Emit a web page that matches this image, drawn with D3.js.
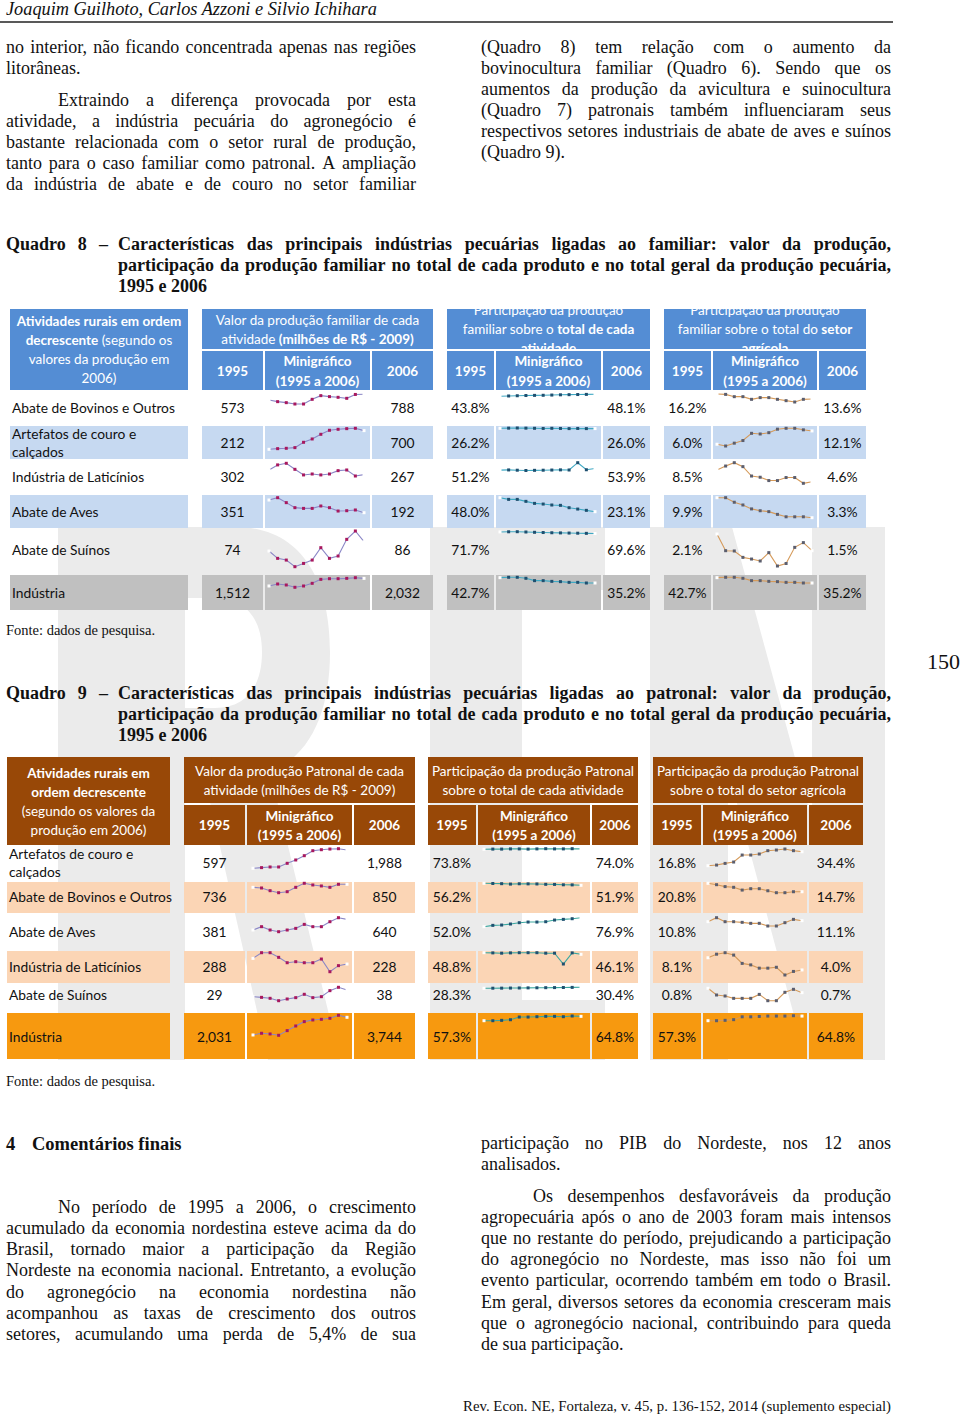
<!DOCTYPE html>
<html><head><meta charset="utf-8">
<script src="https://cdn.jsdelivr.net/npm/d3@7"></script>
<style>body{margin:0;background:#fff;} svg{display:block;}</style>
</head><body>
<script>
// ================= DATA =================
const years = d3.range(1995, 2007);

const q8Activities = ["Abate de Bovinos e Outros", "Artefatos de couro e calçados", "Indústria de Laticínios", "Abate de Aves", "Abate de Suínos", "Indústria"];
const q8Value1995 = [573, 212, 302, 351, 74, 1512];
const q8Value2006 = [788, 700, 267, 192, 86, 2032];
const q8ShareAct1995 = [43.8, 26.2, 51.2, 48.0, 71.7, 42.7];
const q8ShareAct2006 = [48.1, 26.0, 53.9, 23.1, 69.6, 35.2];
const q8ShareSec1995 = [16.2, 6.0, 8.5, 9.9, 2.1, 42.7];
const q8ShareSec2006 = [13.6, 12.1, 4.6, 3.3, 1.5, 35.2];
const q8SparkValue = [
  [573, 510, 472, 421, 421, 598, 737, 700, 674, 636, 782, 788],
  [212, 229, 238, 256, 395, 482, 604, 709, 735, 752, 761, 700],
  [302, 340, 352, 307, 265, 272, 265, 272, 297, 302, 257, 267],
  [351, 380, 318, 255, 246, 246, 276, 255, 213, 217, 226, 192],
  [74, 64.6, 62.4, 53.9, 58.1, 62.4, 78.3, 64.6, 67.6, 89, 99.7, 86],
  [1512, 1648, 1580, 1422, 1512, 1693, 1964, 2009, 2009, 2032, 2077, 2032]
];
const q8SparkShareAct = [
  [43.8, 44.5, 45.0, 45.5, 45.8, 46.0, 46.5, 47.0, 47.3, 47.6, 47.9, 48.1],
  [26.2, 26.3, 26.4, 26.3, 26.2, 26.1, 26.2, 26.1, 26.0, 26.1, 26.0, 26.0],
  [51.2, 51.5, 51.0, 50.5, 50.8, 51.0, 51.3, 51.6, 51.4, 64.0, 51.8, 53.9],
  [48.0, 45.0, 45.0, 41.5, 37.9, 36.7, 35.0, 34.4, 30.2, 27.8, 25.5, 23.1],
  [71.7, 71.9, 72.0, 71.6, 71.2, 70.9, 70.6, 70.4, 70.2, 70.0, 69.8, 69.6],
  [42.7, 43.2, 43.2, 41.8, 38.5, 38.5, 37.5, 37.1, 36.1, 36.1, 35.2, 35.2]
];
const q8SparkShareSec = [
  [16.2, 16.0, 14.8, 14.8, 13.4, 14.3, 14.3, 13.4, 12.7, 12.0, 13.4, 13.6],
  [6.0, 5.2, 6.5, 7.7, 11.0, 10.7, 11.3, 12.9, 13.3, 13.3, 12.6, 12.1],
  [8.5, 9.8, 10.9, 9.6, 6.5, 6.1, 5.0, 5.0, 6.0, 6.0, 4.1, 4.6],
  [9.9, 9.9, 8.4, 7.5, 6.2, 5.6, 5.3, 4.4, 3.6, 3.6, 3.6, 3.3],
  [2.1, 1.5, 1.49, 1.26, 1.2, 1.13, 1.43, 0.95, 1.04, 1.62, 1.79, 1.5],
  [42.7, 43.2, 43.2, 41.8, 38.5, 38.5, 37.5, 37.1, 36.1, 36.1, 35.2, 35.2]
];

const q9Activities = ["Artefatos de couro e calçados", "Abate de Bovinos e Outros", "Abate de Aves", "Indústria de Laticínios", "Abate de Suínos", "Indústria"];
const q9Value1995 = [597, 736, 381, 288, 29, 2031];
const q9Value2006 = [1988, 850, 640, 228, 38, 3744];
const q9ShareAct1995 = [73.8, 56.2, 52.0, 48.8, 28.3, 57.3];
const q9ShareAct2006 = [74.0, 51.9, 76.9, 46.1, 30.4, 64.8];
const q9ShareSec1995 = [16.8, 20.8, 10.8, 8.1, 0.8, 57.3];
const q9ShareSec2006 = [34.4, 14.7, 11.1, 4.0, 0.7, 64.8];
const q9SparkValue = [
  [597, 648, 698, 698, 977, 1230, 1558, 1938, 2014, 2064, 2090, 1988],
  [736, 711, 609, 533, 571, 736, 888, 825, 787, 736, 850, 850],
  [381, 462, 381, 340, 381, 421, 518, 462, 462, 583, 680, 640],
  [288, 348, 348, 299, 242, 253, 242, 242, 281, 147, 211, 228],
  [29, 28.1, 26.8, 23.6, 25.9, 27.7, 32.2, 27.7, 29, 37.1, 41.6, 38],
  [2031, 2193, 2128, 1999, 2451, 2903, 3323, 3484, 3549, 3646, 3937, 3744]
];
const q9SparkShareAct = [
  [73.8, 73.9, 73.9, 74.0, 74.0, 73.9, 74.0, 74.1, 74.0, 74.0, 74.1, 74.0],
  [56.2, 55.8, 55.4, 54.5, 55.2, 55.0, 54.8, 54.0, 53.8, 53.0, 52.8, 51.9],
  [52.0, 55.7, 56.6, 59.4, 63.1, 64.9, 64.9, 65.8, 70.4, 72.3, 74.1, 76.9],
  [48.8, 48.5, 48.0, 48.5, 48.8, 48.8, 48.8, 48.0, 48.0, 30.0, 48.5, 46.1],
  [28.3, 28.5, 28.6, 28.8, 29.0, 29.2, 29.4, 29.6, 29.8, 30.0, 30.2, 30.4],
  [57.3, 57.3, 57.9, 59.0, 63.6, 63.6, 64.2, 64.8, 64.8, 64.2, 65.4, 64.8]
];
const q9SparkShareSec = [
  [16.8, 17.6, 19.7, 21.4, 30.2, 30.2, 31.5, 35.7, 36.5, 37.8, 35.7, 34.4],
  [20.8, 19.8, 18.4, 17.9, 15.9, 16.9, 16.9, 15.4, 14.0, 14.0, 14.7, 14.7],
  [10.8, 12.0, 10.8, 10.8, 10.6, 10.3, 10.3, 9.5, 9.5, 10.5, 11.5, 11.1],
  [8.1, 9.3, 9.8, 9.0, 6.2, 5.7, 4.6, 4.6, 4.9, 2.3, 3.5, 4.0],
  [0.80, 0.646, 0.623, 0.569, 0.569, 0.569, 0.66, 0.515, 0.515, 0.708, 0.777, 0.70],
  [57.3, 57.3, 57.9, 59.0, 63.6, 63.6, 64.2, 64.8, 64.8, 64.8, 65.4, 64.8]
];

// ================= LAYOUT / STYLE =================
const W = 960, H = 1415;
const SERIF = "'Liberation Serif','Times New Roman',serif";
const SANS = "Lato,'Noto Sans',sans-serif";

const svg = d3.select("body").append("svg").attr("width", W).attr("height", H)
  .style("background", "#fff");

const measurer = svg.append("text").attr("visibility", "hidden");
function measure(str, st) {
  measurer.attr("font-family", st.family).attr("font-size", st.size)
    .attr("font-weight", st.weight || "normal").attr("font-style", st.style || "normal").text(str);
  return measurer.node().getComputedTextLength();
}
function styled(sel, st) {
  return sel.attr("font-family", st.family).attr("font-size", st.size)
    .attr("font-weight", st.weight || "normal").attr("font-style", st.style || "normal")
    .attr("fill", st.fill || "#111");
}
function drawLine(g, str, x0, x1, y, st, justify) {
  const words = str.split(" ");
  if (!justify || words.length < 2) {
    styled(g.append("text"), st).attr("x", x0).attr("y", y).text(str);
    return;
  }
  const widths = words.map(w => measure(w, st));
  const total = d3.sum(widths);
  const gap = (x1 - x0 - total) / (words.length - 1);
  if (gap < st.size * 0.2) {
    styled(g.append("text"), st).attr("x", x0).attr("y", y).text(str)
      .attr("textLength", x1 - x0).attr("lengthAdjust", "spacingAndGlyphs");
    return;
  }
  let x = x0;
  words.forEach((w, i) => {
    styled(g.append("text"), st).attr("x", x).attr("y", y).text(w);
    x += widths[i] + gap;
  });
}

// ---------- watermark (REN logo) ----------
const wm = svg.append("g").attr("fill", "#ebebeb");
wm.append("path").attr("d", "M58,527H185V1060H58Z");
wm.append("path").attr("fill-rule", "evenodd").attr("d",
  "M185,527H235C300,527 330,578 330,652C330,726 300,776 236,780H185Z M185,598H215C245,598 262,618 262,652C262,688 245,708 215,708H185Z");
wm.append("path").attr("d", "M205,780H272L340,1060H268Z");
wm.append("path").attr("d", "M430,527H522V1060H430Z");
wm.append("path").attr("d", "M522,527H605V590H522Z");
wm.append("path").attr("d", "M522,765H590V818H522Z");
wm.append("path").attr("d", "M522,1000H605V1060H522Z");
wm.append("path").attr("d", "M650,527H732L812,820V527H885V1060H806L728,770V1060H650Z");

// ---------- page header ----------
const body = { family: SERIF, size: 18 };
styled(svg.append("text"), { family: SERIF, size: 18.3, style: "italic" }).attr("x", 6).attr("y", 15)
  .text("Joaquim Guilhoto, Carlos Azzoni e Silvio Ichihara");
svg.append("line").attr("x1", 0).attr("x2", 893).attr("y1", 22).attr("y2", 22)
  .attr("stroke", "#222").attr("stroke-width", 1.4);

const textG = svg.append("g");
function paragraph(lines, x0, x1) {
  lines.forEach(ln => {
    const indent = ln.indent ? 52 : 0;
    drawLine(textG, ln.t, x0 + indent, x1, ln.y, body, !ln.last);
  });
}
paragraph([
  { t: "no interior, não ficando concentrada apenas nas regiões", y: 53 },
  { t: "litorâneas.", y: 74, last: true },
  { t: "Extraindo a diferença provocada por esta", y: 106, indent: true },
  { t: "atividade, a indústria pecuária do agronegócio é", y: 127 },
  { t: "bastante relacionada com o setor rural de produção,", y: 148 },
  { t: "tanto para o caso familiar como patronal. A ampliação", y: 169 },
  { t: "da indústria de abate e de couro no setor familiar", y: 190 }
], 6, 416);
paragraph([
  { t: "(Quadro 8) tem relação com o aumento da", y: 53 },
  { t: "bovinocultura familiar (Quadro 6). Sendo que os", y: 74 },
  { t: "aumentos da produção da avicultura e suinocultura", y: 95 },
  { t: "(Quadro 7) patronais também influenciaram seus", y: 116 },
  { t: "respectivos setores industriais de abate de aves e suínos", y: 137 },
  { t: "(Quadro 9).", y: 158, last: true }
], 481, 891);

// ---------- titles ----------
const titleSt = { family: SERIF, size: 18, weight: "bold" };
function title(num, l1, l2, y) {
  drawLine(textG, "Quadro " + num + " –", 6, 108, y, titleSt, true);
  drawLine(textG, l1, 118, 891, y, titleSt, true);
  drawLine(textG, l2, 118, 891, y + 21, titleSt, true);
  drawLine(textG, "1995 e 2006", 118, 891, y + 42, titleSt, false);
}
title(8, "Características das principais indústrias pecuárias ligadas ao familiar: valor da produção,",
  "participação da produção familiar no total de cada produto e no total geral da produção pecuária,", 250);
title(9, "Características das principais indústrias pecuárias ligadas ao patronal: valor da produção,",
  "participação da produção familiar no total de cada produto e no total geral da produção pecuária,", 699);

const smallSerif = { family: SERIF, size: 14.5 };
styled(svg.append("text"), smallSerif).attr("x", 6).attr("y", 635).text("Fonte: dados de pesquisa.");
styled(svg.append("text"), smallSerif).attr("x", 6).attr("y", 1086).text("Fonte: dados de pesquisa.");
styled(svg.append("text"), { family: SERIF, size: 22 }).attr("x", 927).attr("y", 669).text("150");

// ---------- tables ----------
const fmtVal = d3.format(",");
const fmtPct = v => d3.format(".1f")(v) + "%";
const cellSt = { family: SANS, size: 13.8, fill: "#111" };
const headSt = { family: SANS, size: 13.5, fill: "#fff" };

function drawTable(cfg) {
  const g = svg.append("g");
  const c = cfg.cols;
  const allCells = [c.colA].concat(c.groups.flat());
  g.append("rect").attr("x", c.colA[0]).attr("y", cfg.head[0]).attr("width", c.colA[1] - c.colA[0])
    .attr("height", cfg.head[2] - cfg.head[0]).attr("fill", cfg.headColor);
  c.groups.forEach((grp, gi) => {
    const gx0 = grp[0][0], gx1 = grp[2][1];
    g.append("rect").attr("x", gx0).attr("y", cfg.head[0]).attr("width", gx1 - gx0)
      .attr("height", cfg.head[1] - cfg.head[0]).attr("fill", cfg.headColor);
    grp.forEach(cell => g.append("rect").attr("x", cell[0]).attr("y", cfg.head[1] + 2)
      .attr("width", cell[1] - cell[0]).attr("height", cfg.head[2] - cfg.head[1] - 2).attr("fill", cfg.headColor));
    const cid = "clip" + cfg.id + gi;
    g.append("clipPath").attr("id", cid).append("rect").attr("x", gx0).attr("y", cfg.head[0])
      .attr("width", gx1 - gx0).attr("height", cfg.head[1] - cfg.head[0]);
    const lines = cfg.groupHeads[gi];
    const cy = (cfg.head[0] + cfg.head[1]) / 2;
    const tg = g.append("g").attr("clip-path", "url(#" + cid + ")");
    lines.forEach((ln, li) => {
      const y = cy + (li - (lines.length - 1) / 2) * 19 + 5;
      const t = styled(tg.append("text"), headSt).attr("x", (gx0 + gx1) / 2).attr("y", y).attr("text-anchor", "middle");
      ln.forEach(seg => t.append("tspan").attr("font-weight", seg[1] ? "bold" : "normal").text(seg[0]));
    });
    const sy = (cfg.head[1] + 2 + cfg.head[2]) / 2;
    const hb = Object.assign({}, headSt, { weight: "bold" });
    styled(g.append("text"), hb).attr("x", (grp[0][0] + grp[0][1]) / 2).attr("y", sy + 5).attr("text-anchor", "middle").text("1995");
    styled(g.append("text"), hb).attr("x", (grp[2][0] + grp[2][1]) / 2).attr("y", sy + 5).attr("text-anchor", "middle").text("2006");
    styled(g.append("text"), hb).attr("x", (grp[1][0] + grp[1][1]) / 2).attr("y", sy - 4.5).attr("text-anchor", "middle").text("Minigráfico");
    styled(g.append("text"), hb).attr("x", (grp[1][0] + grp[1][1]) / 2).attr("y", sy + 15).attr("text-anchor", "middle").text("(1995 a 2006)");
  });
  {
    const cy = (cfg.head[0] + cfg.head[2]) / 2;
    const lines = cfg.colAHead;
    lines.forEach((ln, li) => {
      const y = cy + (li - (lines.length - 1) / 2) * 19 + 5;
      const t = styled(g.append("text"), headSt).attr("x", (c.colA[0] + c.colA[1]) / 2).attr("y", y).attr("text-anchor", "middle");
      ln.forEach(seg => t.append("tspan").attr("font-weight", seg[1] ? "bold" : "normal").text(seg[0]));
    });
  }
  cfg.rows.forEach((r, i) => {
    if (r.bg) allCells.forEach(cell => g.append("rect").attr("x", cell[0]).attr("y", r.y0)
      .attr("width", cell[1] - cell[0]).attr("height", r.y1 - r.y0).attr("fill", r.bg));
    const label = cfg.activities[i];
    const lx = c.colA[0] + 2;
    if (label === "Artefatos de couro e calçados") {
      styled(g.append("text"), cellSt).attr("x", lx).attr("y", r.cy - 9 + 5).text("Artefatos de couro e");
      styled(g.append("text"), cellSt).attr("x", lx).attr("y", r.cy + 9 + 5).text("calçados");
    } else {
      styled(g.append("text"), cellSt).attr("x", lx).attr("y", r.cy + 5).text(label);
    }
    const vals = [
      [fmtVal(cfg.v1995[i]), fmtVal(cfg.v2006[i])],
      [fmtPct(cfg.a1995[i]), fmtPct(cfg.a2006[i])],
      [fmtPct(cfg.s1995[i]), fmtPct(cfg.s2006[i])]
    ];
    c.groups.forEach((grp, gi) => {
      styled(g.append("text"), cellSt).attr("x", (grp[0][0] + grp[0][1]) / 2).attr("y", r.cy + 5)
        .attr("text-anchor", "middle").text(vals[gi][0]);
      styled(g.append("text"), cellSt).attr("x", (grp[2][0] + grp[2][1]) / 2).attr("y", r.cy + 5)
        .attr("text-anchor", "middle").text(vals[gi][1]);
    });
  });
  const sparks = [cfg.sv, cfg.sa, cfg.ss];
  sparks.forEach((set, gi) => {
    const sty = cfg.sparkStyle[gi];
    const xs = d3.scaleLinear().domain([years[0], years[years.length - 1]]).range(cfg.sparkX[gi]);
    set.forEach((series, ri) => {
      const band = cfg.bands[gi][ri];
      const ys = d3.scaleLinear().domain(d3.extent(series)).range(band);
      const pts = series.map((v, k) => [xs(years[k]), ys(v)]);
      g.append("path").attr("d", d3.line()(pts)).attr("fill", "none")
        .attr("stroke", sty.line).attr("stroke-width", 1.1);
      pts.forEach((p, k) => {
        const edge = (k === 0 || k === pts.length - 1);
        g.append("rect").attr("x", p[0] - 1.5).attr("y", p[1] - 1.5).attr("width", 3).attr("height", 3)
          .attr("fill", edge ? "#fff" : sty.marker);
      });
    });
  });
}

const sparkStyle8 = [
  { line: "#8a86c6", marker: "#a8185e" },
  { line: "#3fa9c4", marker: "#1f4f6f" },
  { line: "#d59a5a", marker: "#5b5e6e" }
];
const sparkStyle9 = [
  { line: "#8a86c6", marker: "#a8185e" },
  { line: "#3aa7a0", marker: "#1f5070" },
  { line: "#d59a5a", marker: "#5b5e6e" }
];

const LB = "#c6d9f1", GR = "#c0c0c0", PE = "#fbd5b5", OR = "#f7990f";

drawTable({
  id: "q8",
  headColor: "#548dd4",
  head: [309, 349, 390],
  cols: {
    colA: [10, 188],
    groups: [
      [[202, 263], [265, 370], [372, 433]],
      [[447, 494], [496, 601], [603, 650]],
      [[664, 711], [713, 817], [819, 866]]
    ]
  },
  colAHead: [[["Atividades rurais em ordem", 1]], [["decrescente", 1], [" (segundo os", 0]], [["valores da produção em", 0]], [["2006)", 0]]],
  groupHeads: [
    [[["Valor da produção familiar de cada", 0]], [["atividade ", 0], ["(milhões de R$ - 2009)", 1]]],
    [[["Participação da produção", 0]], [["familiar sobre o ", 0], ["total de cada", 1]], [["atividade", 1]]],
    [[["Participação da produção", 0]], [["familiar sobre o total do ", 0], ["setor", 1]], [["agrícola", 1]]]
  ],
  rows: [
    { y0: 392, y1: 424, cy: 408 },
    { y0: 426, y1: 459, cy: 443, bg: LB },
    { y0: 460, y1: 494, cy: 477 },
    { y0: 495, y1: 528, cy: 512, bg: LB },
    { y0: 530, y1: 572, cy: 550 },
    { y0: 575, y1: 610, cy: 593, bg: GR }
  ],
  activities: q8Activities,
  v1995: q8Value1995, v2006: q8Value2006,
  a1995: q8ShareAct1995, a2006: q8ShareAct2006,
  s1995: q8ShareSec1995, s2006: q8ShareSec2006,
  sv: q8SparkValue, sa: q8SparkShareAct, ss: q8SparkShareSec,
  sparkX: [[269, 364], [500, 595], [717, 812]],
  sparkStyle: sparkStyle8,
  bands: [
    [[404, 394.3], [449.3, 428.3], [476, 463.3], [512.7, 497.7], [566.7, 531], [587.3, 577.7]],
    [[396.3, 394.3], [428.6, 428.0], [470.5, 462.7], [511.7, 497.7], [533.5, 531.7], [583, 577.3]],
    [[402, 394], [446, 428.3], [483.3, 462.7], [517.7, 497.7], [566, 534], [583, 577.3]]
  ]
});

drawTable({
  id: "q9",
  headColor: "#984807",
  head: [757, 803, 845],
  cols: {
    colA: [7, 170],
    groups: [
      [[184, 245], [247, 352], [354, 415]],
      [[428, 476], [478, 590], [592, 638]],
      [[653, 701], [703, 807], [809, 863]]
    ]
  },
  colAHead: [[["Atividades rurais em", 1]], [["ordem decrescente", 1]], [["(segundo os valores da", 0]], [["produção em 2006)", 0]]],
  groupHeads: [
    [[["Valor da produção Patronal de cada", 0]], [["atividade (milhões de R$ - 2009)", 0]]],
    [[["Participação da produção Patronal", 0]], [["sobre o total de cada atividade", 0]]],
    [[["Participação da produção Patronal", 0]], [["sobre o total do setor agrícola", 0]]]
  ],
  rows: [
    { y0: 847, y1: 880, cy: 863 },
    { y0: 882, y1: 913, cy: 897, bg: PE },
    { y0: 915, y1: 948, cy: 932 },
    { y0: 951, y1: 983, cy: 967, bg: PE },
    { y0: 985, y1: 1008, cy: 995 },
    { y0: 1013, y1: 1059, cy: 1037, bg: OR }
  ],
  activities: q9Activities,
  v1995: q9Value1995, v2006: q9Value2006,
  a1995: q9ShareAct1995, a2006: q9ShareAct2006,
  s1995: q9ShareSec1995, s2006: q9ShareSec2006,
  sv: q9SparkValue, sa: q9SparkShareAct, ss: q9SparkShareSec,
  sparkX: [[253, 347], [484, 581], [708, 802]],
  sparkStyle: sparkStyle9,
  bands: [
    [[868.3, 848.7], [892.7, 883.3], [931.7, 917.7], [971.7, 952.7], [1000.7, 987.3], [1035.3, 1015.3]],
    [[849.3, 848.7], [885.3, 883.3], [926.7, 917.7], [964, 952.7], [988.3, 987.3], [1020.7, 1016]],
    [[865.7, 849], [892.7, 883.3], [926, 917.7], [975, 952.7], [1000.7, 988.3], [1020.7, 1015.7]]
  ]
});

// ---------- final section ----------
styled(svg.append("text"), { family: SERIF, size: 18.5, weight: "bold" }).attr("x", 6).attr("y", 1150).text("4");
styled(svg.append("text"), { family: SERIF, size: 18.5, weight: "bold" }).attr("x", 32).attr("y", 1150).text("Comentários finais");
paragraph([
  { t: "No período de 1995 a 2006, o crescimento", y: 1213, indent: true },
  { t: "acumulado da economia nordestina esteve acima da do", y: 1234 },
  { t: "Brasil, tornado maior a participação da Região", y: 1255 },
  { t: "Nordeste na economia nacional. Entretanto, a evolução", y: 1276 },
  { t: "do agronegócio na economia nordestina não", y: 1298 },
  { t: "acompanhou as taxas de crescimento dos outros", y: 1319 },
  { t: "setores, acumulando uma perda de 5,4% de sua", y: 1340 }
], 6, 416);
paragraph([
  { t: "participação no PIB do Nordeste, nos 12 anos", y: 1149 },
  { t: "analisados.", y: 1170, last: true },
  { t: "Os desempenhos desfavoráveis da produção", y: 1202, indent: true },
  { t: "agropecuária após o ano de 2003 foram mais intensos", y: 1223 },
  { t: "que no restante do período, prejudicando a participação", y: 1244 },
  { t: "do agronegócio no Nordeste, mas isso não foi um", y: 1265 },
  { t: "evento particular, ocorrendo também em todo o Brasil.", y: 1286 },
  { t: "Em geral, diversos setores da economia cresceram mais", y: 1308 },
  { t: "que o agronegócio nacional, contribuindo para queda", y: 1329 },
  { t: "de sua participação.", y: 1350, last: true }
], 481, 891);

styled(svg.append("text"), { family: SERIF, size: 14.8 }).attr("x", 891).attr("y", 1411)
  .attr("text-anchor", "end").text("Rev. Econ. NE, Fortaleza, v. 45, p. 136-152, 2014 (suplemento especial)");
measurer.remove();
</script>
</body></html>
